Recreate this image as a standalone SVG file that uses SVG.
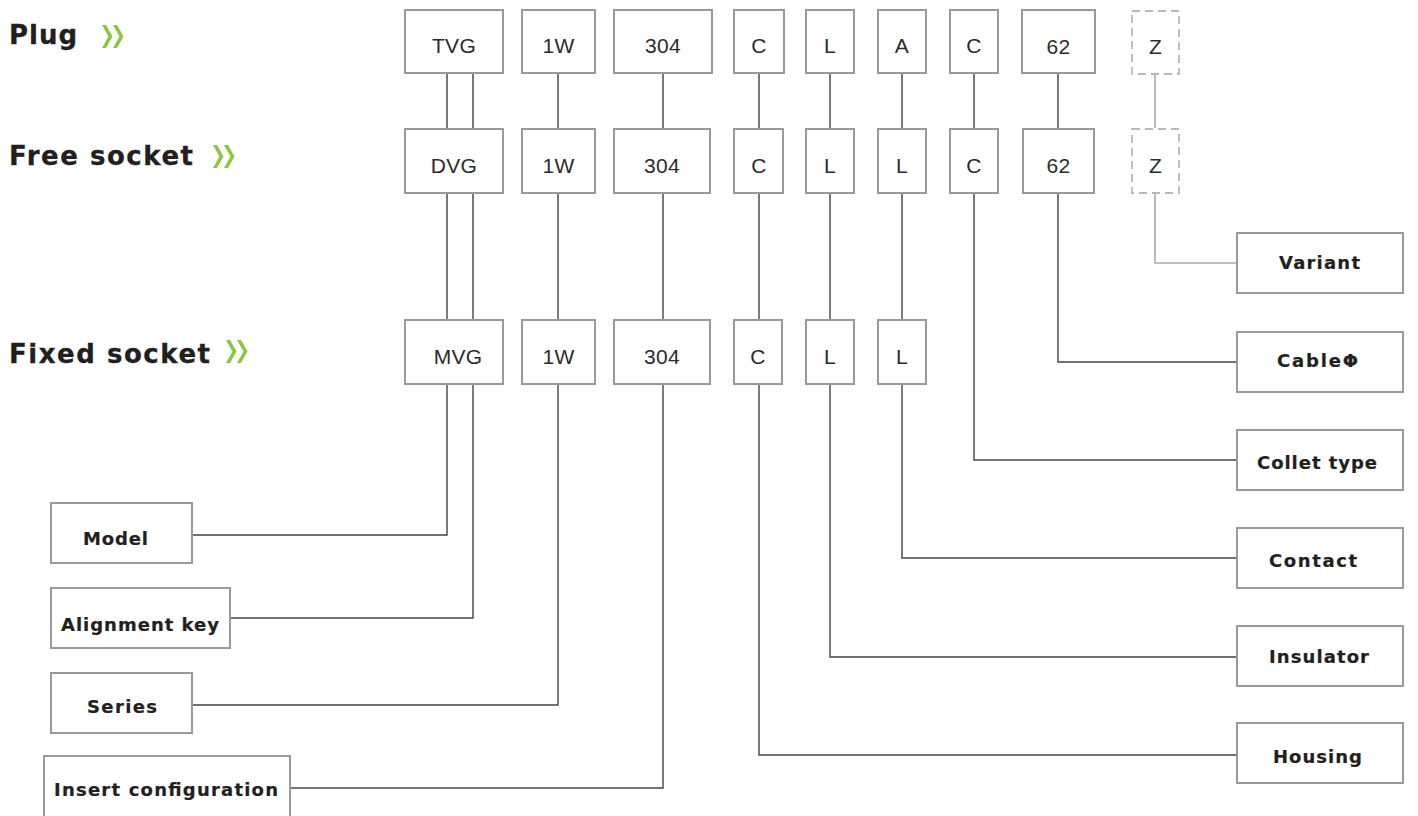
<svg xmlns="http://www.w3.org/2000/svg" width="1418" height="816" viewBox="0 0 1418 816">
<style>
.bx{fill:#fff;stroke:#9a9a9a;stroke-width:2}
.dz{fill:#fff;stroke:#b8b8b8;stroke-width:1.8;stroke-dasharray:8 5}
.code{font-family:"Liberation Sans",Arial,sans-serif;font-size:21px;fill:#2b2b2b;text-anchor:middle;letter-spacing:0.3px}
.lab{font-family:"DejaVu Sans","Liberation Sans",Arial,sans-serif;font-size:18px;font-weight:bold;fill:#231f20;stroke:#231f20;stroke-width:0.2;text-anchor:middle}
.head{font-family:"DejaVu Sans","Liberation Sans",Arial,sans-serif;font-size:26px;font-weight:bold;fill:#231f20;stroke:#231f20;stroke-width:0.3}
.chev{fill:#8cc63e}
.ln{fill:none;stroke:#444;stroke-width:1.4}
.lg{fill:none;stroke:#aaa;stroke-width:1.6}
</style>
<rect width="1418" height="816" fill="#fff"/>

<g id="headings">
  <text class="head" x="9" y="44" textLength="68" lengthAdjust="spacing">Plug</text>
  <polygon class="chev" points="102,25 106,25 112.5,36.5 106,48 102,48 108.5,36.5"/>
  <polygon class="chev" points="113,25 117,25 123.5,36.5 117,48 113,48 119.5,36.5"/>
  <text class="head" x="9" y="165" textLength="184" lengthAdjust="spacing">Free socket</text>
  <polygon class="chev" points="213,145 217,145 223.5,156.5 217,168 213,168 219.5,156.5"/>
  <polygon class="chev" points="224,145 228,145 234.5,156.5 228,168 224,168 230.5,156.5"/>
  <text class="head" x="9" y="363" textLength="201" lengthAdjust="spacing">Fixed socket</text>
  <polygon class="chev" points="226,340 230,340 236.5,351.5 230,363 226,363 232.5,351.5"/>
  <polygon class="chev" points="237,340 241,340 247.5,351.5 241,363 237,363 243.5,351.5"/>
</g>

<g id="connectors">
  <!-- row1 to row2 -->
  <path class="ln" d="M447,73V128M473,73V128M558,73V128M663,73V128M759,73V128M830,73V128M902,73V128M974,73V128M1058,73V128"/>
  <path class="lg" d="M1155,74V128"/>
  <!-- row2 to row3 -->
  <path class="ln" d="M447,193V320M473,193V320M558,193V320M663,193V320M759,193V320M830,193V320M902,193V320"/>
  <!-- to right labels -->
  <path class="lg" d="M1155,194V263H1237"/>
  <path class="ln" d="M1058,193V362H1237"/>
  <path class="ln" d="M974,193V460H1237"/>
  <path class="ln" d="M902,384V558H1237"/>
  <path class="ln" d="M830,384V657H1237"/>
  <path class="ln" d="M759,384V755H1237"/>
  <!-- to left labels -->
  <path class="ln" d="M447,384V535H192"/>
  <path class="ln" d="M473,384V618H230"/>
  <path class="ln" d="M558,384V705H192"/>
  <path class="ln" d="M663,384V788H290"/>
</g>

<g id="plug-row">
  <g id="p-tvg"><rect class="bx" x="405" y="10" width="98" height="63"/><text class="code" x="454" y="53">TVG</text></g>
  <g id="p-1w"><rect class="bx" x="522" y="10" width="73" height="63"/><text class="code" x="558.5" y="53">1W</text></g>
  <g id="p-304"><rect class="bx" x="614" y="10" width="98" height="63"/><text class="code" x="663" y="53">304</text></g>
  <g id="p-c"><rect class="bx" x="734" y="10" width="50" height="63"/><text class="code" x="759" y="53">C</text></g>
  <g id="p-l"><rect class="bx" x="806" y="10" width="48" height="63"/><text class="code" x="830" y="53">L</text></g>
  <g id="p-a"><rect class="bx" x="878" y="10" width="48" height="63"/><text class="code" x="902" y="53">A</text></g>
  <g id="p-c2"><rect class="bx" x="950" y="10" width="48" height="63"/><text class="code" x="974" y="53">C</text></g>
  <g id="p-62"><rect class="bx" x="1022" y="10" width="73" height="63"/><text class="code" x="1058.5" y="54">62</text></g>
  <g id="p-z"><rect class="dz" x="1132" y="11" width="47" height="63"/><text class="code" x="1155.5" y="54">Z</text></g>
</g>

<g id="free-row">
  <g id="f-dvg"><rect class="bx" x="405" y="129" width="98" height="64"/><text class="code" x="454" y="173">DVG</text></g>
  <g id="f-1w"><rect class="bx" x="522" y="129" width="73" height="64"/><text class="code" x="558.5" y="173">1W</text></g>
  <g id="f-304"><rect class="bx" x="614" y="129" width="96" height="64"/><text class="code" x="662" y="173">304</text></g>
  <g id="f-c"><rect class="bx" x="734" y="129" width="49" height="64"/><text class="code" x="759" y="173">C</text></g>
  <g id="f-l"><rect class="bx" x="806" y="129" width="48" height="64"/><text class="code" x="830" y="173">L</text></g>
  <g id="f-l2"><rect class="bx" x="878" y="129" width="48" height="64"/><text class="code" x="902" y="173">L</text></g>
  <g id="f-c2"><rect class="bx" x="950" y="129" width="48" height="64"/><text class="code" x="974" y="173">C</text></g>
  <g id="f-62"><rect class="bx" x="1023" y="129" width="71" height="64"/><text class="code" x="1058.5" y="173">62</text></g>
  <g id="f-z"><rect class="dz" x="1132" y="129" width="47" height="64"/><text class="code" x="1155.5" y="173">Z</text></g>
</g>

<g id="fixed-row">
  <g id="m-mvg"><rect class="bx" x="405" y="320" width="98" height="64"/><text class="code" x="458" y="364">MVG</text></g>
  <g id="m-1w"><rect class="bx" x="522" y="320" width="73" height="64"/><text class="code" x="558.5" y="364">1W</text></g>
  <g id="m-304"><rect class="bx" x="614" y="320" width="96" height="64"/><text class="code" x="662" y="364">304</text></g>
  <g id="m-c"><rect class="bx" x="734" y="320" width="48" height="64"/><text class="code" x="758" y="364">C</text></g>
  <g id="m-l"><rect class="bx" x="806" y="320" width="48" height="64"/><text class="code" x="830" y="364">L</text></g>
  <g id="m-l2"><rect class="bx" x="878" y="320" width="48" height="64"/><text class="code" x="902" y="364">L</text></g>
</g>

<g id="right-labels">
  <g id="variant"><rect class="bx" x="1237" y="233" width="166" height="60"/><text class="lab" x="1319.5" y="269" textLength="81" lengthAdjust="spacing">Variant</text></g>
  <g id="cable"><rect class="bx" x="1237" y="332" width="166" height="60"/><text class="lab" x="1317.5" y="367" textLength="81" lengthAdjust="spacing">CableΦ</text></g>
  <g id="collet"><rect class="bx" x="1237" y="430" width="166" height="60"/><text class="lab" x="1317" y="469" textLength="120" lengthAdjust="spacing">Collet type</text></g>
  <g id="contact"><rect class="bx" x="1237" y="528" width="166" height="60"/><text class="lab" x="1313" y="567" textLength="88" lengthAdjust="spacing">Contact</text></g>
  <g id="insulator"><rect class="bx" x="1237" y="626" width="166" height="60"/><text class="lab" x="1319" y="663" textLength="100" lengthAdjust="spacing">Insulator</text></g>
  <g id="housing"><rect class="bx" x="1237" y="723" width="166" height="60"/><text class="lab" x="1317.5" y="763" textLength="89" lengthAdjust="spacing">Housing</text></g>
</g>

<g id="left-labels">
  <g id="model"><rect class="bx" x="51" y="503" width="141" height="60"/><text class="lab" x="115.5" y="545" textLength="65" lengthAdjust="spacing">Model</text></g>
  <g id="alignment"><rect class="bx" x="51" y="588" width="179" height="60"/><text class="lab" x="140" y="631" textLength="158" lengthAdjust="spacing">Alignment key</text></g>
  <g id="series"><rect class="bx" x="51" y="673" width="141" height="60"/><text class="lab" x="122" y="713" textLength="70" lengthAdjust="spacing">Series</text></g>
  <g id="insert"><rect class="bx" x="44" y="756" width="246" height="62"/><text class="lab" x="166" y="796" textLength="224" lengthAdjust="spacing">Insert configuration</text></g>
</g>
</svg>
